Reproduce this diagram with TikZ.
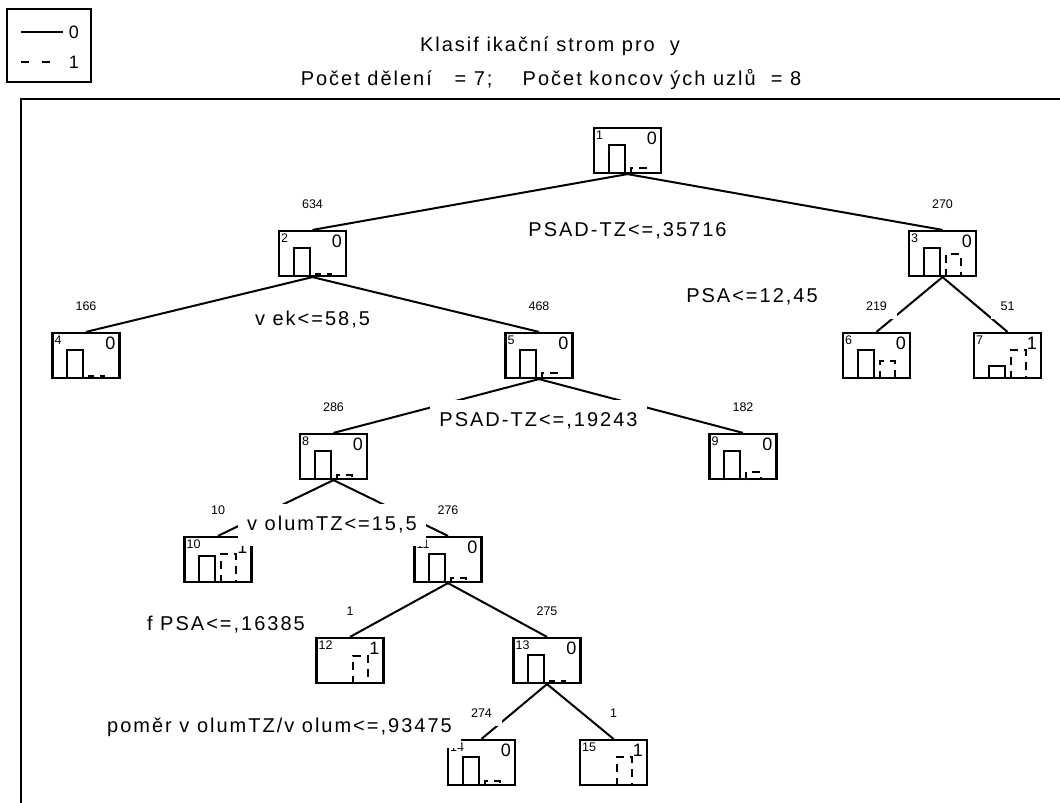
\documentclass[tikz,border=0pt]{standalone}
\usepackage{fontspec}
\setmainfont{Liberation Sans}
\newfontfamily\statfont{Liberation Sans}[LetterSpace=10]

% one tree node: name, x, y, number, class, height of bar 0, height of bar 1
\newcommand{\statnode}[7]{%
  \node[treebox] (#1) at (#2,#3) {};
  \node[numlbl, anchor=north west] at ([shift={(3,4)}]#1.north west) {#4};
  \node[classlbl, anchor=north east] at ([shift={(-5,5)}]#1.north east) {#5};
  \begin{scope}[shift={(#1.south)}]
    \ifdim#6pt>0pt \draw[bar] (-19,0) -- (-19,-#6) -- (-3,-#6) -- (-3,0);\fi
    \draw[dashbar] (3,0) -- (3,-#7) -- (18,-#7) -- (18,0);
  \end{scope}}

\tikzset{
  treebox/.style={draw, line width=2.2pt, minimum width=67pt, minimum height=45pt, inner sep=0pt},
  numlbl/.style={font=\fontsize{12.5}{13}\selectfont, inner sep=0pt},
  classlbl/.style={font=\fontsize{18}{19}\selectfont, inner sep=0pt},
  bar/.style={line width=2pt},
  dashbar/.style={line width=2pt, dash pattern=on 8pt off 6pt},
  edge/.style={line width=2pt},
  countlbl/.style={fill=white, inner xsep=10pt, inner ysep=9pt, font=\fontsize{12.5}{13}\selectfont},
  splitlbl/.style={fill=white, inner xsep=9pt, inner ysep=11.5pt, text height=15pt, text depth=4pt,
    font=\statfont\fontsize{20}{22}\selectfont},
  titlelbl/.style={inner sep=0pt, font=\statfont\fontsize{20}{22}\selectfont}
}

\begin{document}
\begin{tikzpicture}[x=1pt, y=-1pt]
\useasboundingbox (0,0) rectangle (1060,803);

% legend
\draw[line width=2.2pt] (7,9) rectangle (91,82);
\draw[bar] (21,32) -- (63,32);
\draw[bar, dash pattern=on 8pt off 13pt] (21,62) -- (53,62);
\node[classlbl] (leg0) at (74,32) {0};
\node[classlbl] (leg1) at (74,62) {1};

% titles
\node[titlelbl] (title) at (550,46) {Klasif ikační strom pro\ \ y};
\node[titlelbl] (subtitle) at (551,80) {Počet dělení\ \ \ = 7;\ \ \ \ Počet koncov ých uzlů\ \ = 8};

% frame
\draw[line width=2.4pt] (21,810) -- (21,99) -- (1070,99);

% nodes
\statnode{n1}{627.5}{150.5}{1}{0}{29}{6}
\statnode{n2}{312.5}{253.5}{2}{0}{29}{3}
\statnode{n3}{942.5}{253.5}{3}{0}{29}{23}
\statnode{n4}{86}{355.5}{4}{0}{29}{3}
\statnode{n5}{539}{355.5}{5}{0}{29}{6}
\statnode{n6}{876.5}{355.5}{6}{0}{29}{18}
\statnode{n7}{1007.5}{355.5}{7}{1}{13}{29}
\statnode{n8}{333.5}{456.5}{8}{0}{29}{5}
\statnode{n9}{743}{456.5}{9}{0}{29}{8}
\statnode{n10}{218}{559.5}{10}{1}{27}{29}
\statnode{n11}{448}{559.5}{11}{0}{29}{5}
\statnode{n12}{350}{660.5}{12}{1}{0}{28}
\statnode{n13}{547}{660.5}{13}{0}{29}{3}
\statnode{n14}{481.5}{762.5}{14}{0}{29}{5}
\statnode{n15}{613.5}{762.5}{15}{1}{0}{29}

% edges
\draw[edge] (n1.south) -- (n2.north);
\draw[edge] (n1.south) -- (n3.north);
\draw[edge] (n2.south) -- (n4.north);
\draw[edge] (n2.south) -- (n5.north);
\draw[edge] (n3.south) -- (n6.north);
\draw[edge] (n3.south) -- (n7.north);
\draw[edge] (n5.south) -- (n8.north);
\draw[edge] (n5.south) -- (n9.north);
\draw[edge] (n8.south) -- (n10.north);
\draw[edge] (n8.south) -- (n11.north);
\draw[edge] (n11.south) -- (n12.north);
\draw[edge] (n11.south) -- (n13.north);
\draw[edge] (n13.south) -- (n14.north);
\draw[edge] (n13.south) -- (n15.north);

% counts
\node[countlbl] (c2) at (312.5,204) {634};
\node[countlbl] (c3) at (942.5,204) {270};
\node[countlbl] (c4) at (86,306) {166};
\node[countlbl] (c5) at (539,306) {468};
\node[countlbl] (c6) at (876.5,306) {219};
\node[countlbl] (c7) at (1007.5,306) {51};
\node[countlbl] (c8) at (333.5,407) {286};
\node[countlbl] (c9) at (743,407) {182};
\node[countlbl] (c10) at (218,510) {10};
\node[countlbl] (c11) at (448,510) {276};
\node[countlbl] (c12) at (350,611) {1};
\node[countlbl] (c13) at (547,611) {275};
\node[countlbl] (c14) at (481.5,713) {274};
\node[countlbl] (c15) at (613.5,713) {1};

% splits
\node[splitlbl] (s1) at (627.5,231) {PSAD-TZ<=,35716};
\node[splitlbl] (s2) at (312.5,320) {v ek<=58,5};
\node[splitlbl] (s3) at (752,297) {PSA<=12,45};
\node[splitlbl] (s5) at (538.5,421) {PSAD-TZ<=,19243};
\node[splitlbl] (s8) at (332,525) {v olumTZ<=15,5};
\node[splitlbl, anchor=east] (s11) at (314,625) {f PSA<=,16385};
\node[splitlbl, anchor=east] (s13) at (461,727) {poměr v olumTZ/v olum<=,93475};
\end{tikzpicture}
\end{document}
